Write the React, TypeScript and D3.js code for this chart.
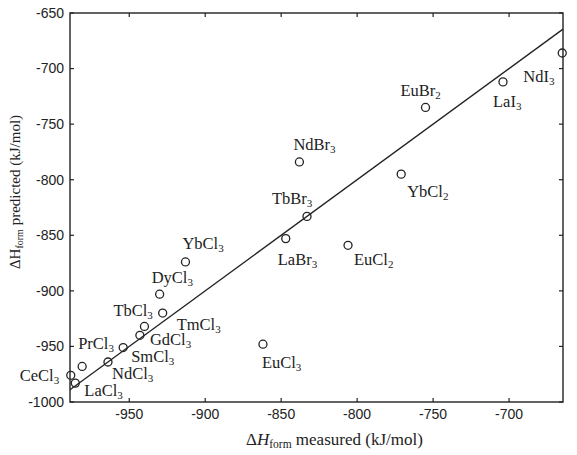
import React, { useEffect, useRef } from "react";
import * as d3 from "d3";

// compounds, measured vs predicted formation enthalpy (kJ/mol)
const compounds = [
  "CeCl3", "LaCl3", "PrCl3", "NdCl3", "SmCl3", "GdCl3", "TbCl3", "TmCl3", "DyCl3", "YbCl3",
  "EuCl3", "LaBr3", "TbBr3", "NdBr3", "EuCl2", "YbCl2", "EuBr2", "LaI3", "NdI3",
];
const measured = [
  -988.5, -985.5, -981, -964, -954, -943, -940, -928, -930, -913,
  -862, -847, -833, -838, -806, -771, -755, -704, -665,
];
const predicted = [
  -976, -983, -968, -964, -951, -940, -932, -920, -903, -874,
  -948, -853, -833, -784, -859, -795, -735, -712, -686,
];
const xTicks = [-950, -900, -850, -800, -750, -700];
const yTicks = [-1000, -950, -900, -850, -800, -750, -700, -650];

// label placement (pixel offsets from the marker)
const labelOffsets: Record<string, [number, number]> = {
  CeCl3: [-51, 6], LaCl3: [9, 13], PrCl3: [-4, -17], NdCl3: [4, 17], SmCl3: [8, 14],
  GdCl3: [10, 10], TbCl3: [-31, -10], TmCl3: [14, 17], DyCl3: [-8, -11], YbCl3: [-3, -13],
  EuCl3: [-1, 24], LaBr3: [-8, 26], TbBr3: [-35, -12], NdBr3: [-6, -12], EuCl2: [6, 20],
  YbCl2: [6, 23], EuBr2: [-25, -11], LaI3: [-10, 25], NdI3: [-39, 29],
};

const W = 577;
const H = 455;
const ink = "#222";

export default function App() {
  const ref = useRef<SVGSVGElement>(null);

  useEffect(() => {
    const svg = d3.select(ref.current);
    svg.selectAll("*").remove();

    const x = d3.scaleLinear().domain([-989, -664.5]).range([70, 563]);
    const y = d3.scaleLinear().domain([-1000, -650]).range([402, 13]);
    const [x0, x1] = x.range();
    const [y0, y1] = y.range();

    // frame
    svg.append("rect")
      .attr("x", x0).attr("y", y1)
      .attr("width", x1 - x0).attr("height", y0 - y1)
      .attr("fill", "none").attr("stroke", ink).attr("stroke-width", 1.4);

    // inward ticks on all sides
    const tl = 4;
    const tg = svg.append("g").attr("stroke", ink).attr("stroke-width", 1.2);
    xTicks.forEach((t) => {
      tg.append("line").attr("x1", x(t)).attr("x2", x(t)).attr("y1", y0).attr("y2", y0 - tl);
      tg.append("line").attr("x1", x(t)).attr("x2", x(t)).attr("y1", y1).attr("y2", y1 + tl);
    });
    yTicks.forEach((t) => {
      tg.append("line").attr("x1", x0).attr("x2", x0 + tl).attr("y1", y(t)).attr("y2", y(t));
      tg.append("line").attr("x1", x1).attr("x2", x1 - tl).attr("y1", y(t)).attr("y2", y(t));
    });

    const tickFont = "'Liberation Sans', Arial, sans-serif";
    svg.append("g").selectAll("text").data(xTicks).join("text")
      .attr("x", (d) => x(d)).attr("y", 419)
      .attr("text-anchor", "middle")
      .attr("font-family", tickFont).attr("font-size", 14).attr("fill", ink)
      .text((d) => d);
    svg.append("g").selectAll("text").data(yTicks).join("text")
      .attr("x", 64).attr("y", (d) => y(d)).attr("dy", "0.35em")
      .attr("text-anchor", "end")
      .attr("font-family", tickFont).attr("font-size", 14).attr("fill", ink)
      .text((d) => d);

    // y = x reference line
    const lo = x.domain()[0];
    const hi = x.domain()[1];
    svg.append("line")
      .attr("x1", x(lo)).attr("y1", y(lo))
      .attr("x2", x(hi)).attr("y2", y(hi))
      .attr("stroke", ink).attr("stroke-width", 1.3);

    const pts = compounds.map((c, i) => ({ name: c, mx: measured[i], pr: predicted[i] }));

    svg.append("g").selectAll("circle").data(pts).join("circle")
      .attr("cx", (d) => x(d.mx)).attr("cy", (d) => y(d.pr))
      .attr("r", 4)
      .attr("fill", "none").attr("stroke", ink).attr("stroke-width", 1.3);

    const serif = "'Liberation Serif', 'Times New Roman', serif";
    const labels = svg.append("g").attr("font-family", serif).attr("fill", ink);
    pts.forEach((d) => {
      const [dx, dy] = labelOffsets[d.name];
      const m = d.name.match(/^(.*?)(\d+)$/);
      const t = labels.append("text")
        .attr("x", x(d.mx) + dx).attr("y", y(d.pr) + dy)
        .attr("font-size", 16.5);
      t.append("tspan").text(m ? m[1] : d.name);
      if (m) t.append("tspan").attr("font-size", 11).attr("dy", 3).text(m[2]);
    });

    // axis titles
    const xl = svg.append("text")
      .attr("x", 246).attr("y", 445)
      .attr("font-family", serif).attr("font-size", 17).attr("fill", ink);
    xl.append("tspan").text("Δ");
    xl.append("tspan").attr("font-style", "italic").text("H");
    xl.append("tspan").attr("font-size", 11.5).attr("dy", 3).text("form");
    xl.append("tspan").attr("dy", -3).text(" measured (kJ/mol)");

    const yl = svg.append("text")
      .attr("transform", "translate(20,192) rotate(-90)")
      .attr("text-anchor", "middle")
      .attr("font-family", serif).attr("font-size", 15).attr("fill", ink);
    yl.append("tspan").text("ΔH");
    yl.append("tspan").attr("font-size", 10).attr("dy", 3).text("form");
    yl.append("tspan").attr("dy", -3).text(" predicted (kJ/mol)");
  }, []);

  return (
    <svg
      ref={ref}
      width={W}
      height={H}
      style={{ position: "absolute", left: 0, top: 0, background: "#fff" }}
    />
  );
}
